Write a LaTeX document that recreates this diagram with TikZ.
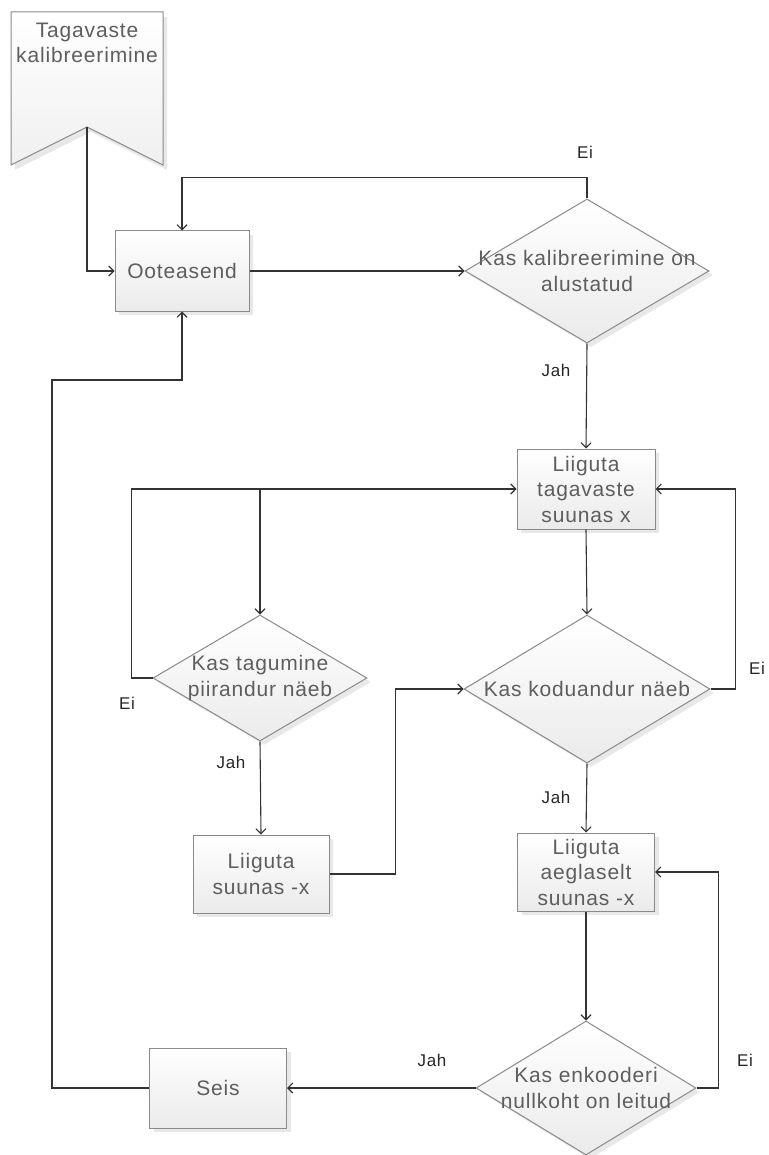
\documentclass[tikz,border=0pt]{standalone}
\usepackage{fontspec}
\setmainfont{Liberation Sans}
\newfontfamily\spacedfont[LetterSpace=4]{Liberation Sans}
\usetikzlibrary{shapes.geometric,arrows.meta,shadows}
\definecolor{edge}{HTML}{8A8A8A}
\definecolor{txt}{HTML}{5E5E5E}
\definecolor{lin}{HTML}{333333}
\begin{document}
\begin{tikzpicture}[x=1pt,y=-1pt,
  shapebase/.style={draw=edge, line width=1pt, top color=white, bottom color=black!8,
    drop shadow={shadow xshift=4pt, shadow yshift=-4pt, opacity=0.18}},
  box/.style={shapebase, rectangle, inner sep=0pt},
  dia/.style={shapebase, diamond, inner sep=0pt},
  txtnode/.style={text=txt, align=center, font=\spacedfont\fontsize{21}{25.5}\selectfont, inner sep=0pt},
  lbl/.style={text=black!85, font=\spacedfont\fontsize{17}{20}\selectfont, inner sep=0pt},
  arr/.style={draw=lin, line width=1.1pt, -{Straight Barb[length=5pt,width=10pt]}}
]
\useasboundingbox (0,0) rectangle (768,1155);

% banner
\draw[draw=edge, line width=1pt, top color=white, bottom color=black!6,
  drop shadow={shadow xshift=4pt, shadow yshift=-5pt, opacity=0.18}]
  (11,12) -- (163,12) -- (163,165) -- (87,127) -- (11,165) -- cycle;
\coordinate (notch) at (87,127);
\node[txtnode] (banner) at (87,43) {Tagavaste\\kalibreerimine};

% boxes
\node[box, minimum width=134pt, minimum height=80pt] (oot) at (182,271) {};
\node[txtnode] (ootT) at (oot.center) {Ooteasend};

\node[box, minimum width=138pt, minimum height=80pt] (mv1) at (586,489) {};
\node[txtnode] (mv1T) at (mv1.center) {Liiguta\\tagavaste\\suunas x};

\node[box, minimum width=136pt, minimum height=78pt] (mv2) at (261,874) {};
\node[txtnode] (mv2T) at (mv2.center) {Liiguta\\suunas -x};

\node[box, minimum width=137pt, minimum height=78pt] (mv3) at (586,872) {};
\node[txtnode] (mv3T) at (mv3.center) {Liiguta\\aeglaselt\\suunas -x};

\node[box, minimum width=137pt, minimum height=80pt] (seis) at (218,1088) {};
\node[txtnode] (seisT) at (seis.center) {Seis};

% diamonds
\node[dia, minimum width=244pt, minimum height=144pt] (d1) at (587,271) {};
\node[txtnode] (d1T) at (d1.center) {Kas kalibreerimine on\\alustatud};

\node[dia, minimum width=214pt, minimum height=126pt] (d2) at (260,678) {};
\node[txtnode] (d2T) at (d2.center) {Kas tagumine\\piirandur näeb};

\node[dia, minimum width=246pt, minimum height=148pt] (d3) at (587,689) {};
\node[txtnode] (d3T) at (d3.center) {Kas koduandur näeb};

\node[dia, minimum width=220pt, minimum height=134pt] (d4) at (586,1088) {};
\node[txtnode] (d4T) at (d4.center) {Kas enkooderi\\nullkoht on leitud};

% labels
\node[lbl] (l1) at (585,152) {Ei};
\node[lbl] (l2) at (556,370) {Jah};
\node[lbl] (l3) at (127,703) {Ei};
\node[lbl] (l4) at (757,668) {Ei};
\node[lbl] (l5) at (231,762) {Jah};
\node[lbl] (l6) at (556,797) {Jah};
\node[lbl] (l7) at (745,1060) {Ei};
\node[lbl] (l8) at (432,1060) {Jah};

% connectors
\draw[arr] (notch) |- (oot.west);
\draw[arr] (oot.east) -- (d1.west);
\draw[arr] (d1.north) -- ++(0,-21) -| (oot.north);
\draw[arr] (d1.south) -- (mv1.north);
\draw[arr] (d2.west) -- ++(-21,0) |- (mv1.west);
\coordinate (j1) at (d2.north |- mv1.west);
\draw[arr] (j1) -- (d2.north);
\draw[arr] (mv1.south) -- (d3.north);
\draw[arr] (d3.east) -- ++(25,0) |- (mv1.east);
\draw[arr] (d2.south) -- (mv2.north);
\draw[arr] (mv2.east) -- ++(66,0) |- (d3.west);
\draw[arr] (d3.south) -- (mv3.north);
\draw[arr] (mv3.south) -- (d4.north);
\draw[arr] (d4.east) -- ++(22,0) |- (mv3.east);
\draw[arr] (d4.west) -- (seis.east);
\coordinate (c2) at (52,380);
\draw[arr] (seis.west) -| (c2) -| (oot.south);
\end{tikzpicture}
\end{document}
